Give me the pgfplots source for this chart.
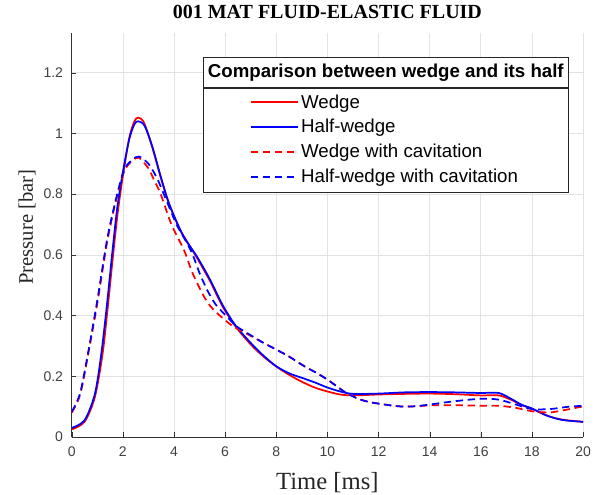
\documentclass[border=0pt]{standalone}
\usepackage{pgfplots}
\pgfplotsset{compat=1.18}
\usepackage{fontspec}
\setmainfont{Liberation Serif}
\newfontfamily\arial{Liberation Sans}

% Wedge
\pgfplotstableread{
t p
0 0.025
0.5 0.05
0.9 0.13
1.2 0.27
1.4 0.42
1.6 0.585
1.8 0.74
2.0 0.86
2.25 0.985
2.45 1.04
2.6 1.052
2.8 1.04
3.0 0.995
3.2 0.94
3.5 0.85
3.8 0.77
4.2 0.69
4.5 0.645
4.9 0.59
5.4 0.515
5.9 0.43
6.4 0.365
7.0 0.305
7.5 0.265
8.0 0.232
8.5 0.205
9.0 0.182
9.5 0.163
10.0 0.15
10.5 0.14
11.0 0.137
12.0 0.14
13.0 0.142
14.0 0.143
15.0 0.141
16.0 0.137
16.7 0.137
17.2 0.122
17.6 0.105
18.0 0.093
18.6 0.07
19.2 0.057
20.0 0.05
}\wedge

% Half-wedge
\pgfplotstableread{
t p
0 0.03
0.5 0.055
0.9 0.14
1.15 0.27
1.37 0.43
1.57 0.594
1.77 0.748
1.97 0.858
2.24 0.978
2.45 1.03
2.6 1.04
2.85 1.025
3.15 0.957
3.48 0.858
3.8 0.77
4.2 0.69
4.45 0.65
4.9 0.594
5.4 0.52
5.9 0.435
6.4 0.368
7.0 0.31
7.5 0.268
8.0 0.233
8.5 0.21
9.0 0.195
9.5 0.18
10.0 0.163
10.5 0.15
11.0 0.142
12.0 0.143
13.0 0.147
14.0 0.148
15.0 0.147
16.0 0.145
16.7 0.145
17.2 0.125
17.6 0.106
18.0 0.094
18.6 0.07
19.2 0.056
20.0 0.05
}\half

% Wedge with cavitation
\pgfplotstableread{
t p
0 0.08
0.33 0.14
0.66 0.28
1.0 0.44
1.38 0.64
1.72 0.775
2.05 0.875
2.37 0.91
2.63 0.92
3.0 0.885
3.2 0.85
3.48 0.80
3.9 0.70
4.39 0.616
4.7 0.545
5.04 0.484
5.3 0.445
5.56 0.418
6.0 0.385
6.34 0.363
7.0 0.333
7.5 0.31
8.0 0.288
8.5 0.265
9.1 0.233
9.6 0.21
10.0 0.189
10.4 0.165
10.7 0.147
11.2 0.126
11.6 0.116
12.0 0.11
12.8 0.101
13.4 0.101
14.0 0.104
15.0 0.105
16.0 0.103
16.7 0.103
17.37 0.096
18.0 0.085
18.7 0.081
19.36 0.09
20.0 0.101
}\wedgecav

% Half-wedge with cavitation
\pgfplotstableread{
t p
0 0.083
0.33 0.145
0.66 0.287
1.0 0.45
1.38 0.649
1.72 0.78
2.05 0.88
2.37 0.913
2.63 0.924
3.0 0.9
3.35 0.85
3.7 0.78
4.1 0.70
4.4 0.655
4.71 0.605
5.0 0.54
5.3 0.484
5.6 0.44
5.88 0.413
6.2 0.385
6.47 0.363
6.97 0.337
7.5 0.31
8.0 0.288
8.5 0.265
9.1 0.233
9.6 0.21
10.0 0.189
10.4 0.165
10.7 0.147
11.2 0.126
11.6 0.116
12.0 0.11
12.8 0.101
13.4 0.101
14.0 0.107
15.0 0.118
16.0 0.126
16.7 0.123
17.37 0.107
18.0 0.092
18.7 0.092
19.36 0.099
20.0 0.103
}\halfcav

\begin{document}
\begin{tikzpicture}
\path[use as bounding box] (-53.8pt,-43.5pt) rectangle (392.45pt,327.75pt);
\begin{axis}[
  scale only axis, width=383.5pt, height=302.8pt,
  xmin=0, xmax=20, ymin=0, ymax=1.33,
  xtick={0,2,...,20}, ytick={0,0.2,...,1.2},
  axis lines*=left, axis line style={-, black!80, line width=0.5pt},
  tick align=inside, major tick length=3.5pt, tick style={black!80},
  grid=major, grid style={gray!22, line width=0.5pt},
  /pgf/number format/assume math mode=true,
  ticklabel style={font=\arial\fontsize{10.5}{12}\selectfont, text=black!75},
  xticklabel style={yshift=-4pt}, yticklabel style={xshift=-3pt},
  title={\textbf{001 MAT FLUID-ELASTIC FLUID}},
  title style={at={(axis description cs:0.5,1)}, anchor=base, yshift=4.7pt,
    font=\fontsize{15}{18}\selectfont},
  xlabel={Time [ms]},
  xlabel style={at={(axis description cs:0.5,0)}, anchor=base, yshift=-39pt,
    font=\fontsize{18.5}{22}\selectfont, text=black!85},
  ylabel={Pressure [bar]},
  ylabel style={at={(axis description cs:0,0.52)}, anchor=center, yshift=33.5pt,
    font=\fontsize{15.5}{18}\selectfont, text=black!85},
  legend image code/.code={\draw[#1] (0pt,0pt) -- (35pt,0pt);},
  legend style={at={(axis description cs:0.6134,0.7366)}, anchor=center,
    draw=none, fill=none,
    font=\arial\fontsize{14}{16}\selectfont, row sep=3pt,
    cells={anchor=west}},
  legend cell align=left,
]
\addplot[red, line width=1.3pt, smooth] table[x=t, y=p] {\wedge};
\addlegendentry{Wedge}
\addplot[blue, line width=1.3pt, smooth] table[x=t, y=p] {\half};
\addlegendentry{Half-wedge}
\addplot[red, line width=1.3pt, smooth, dash pattern=on 5.5pt off 3.5pt] table[x=t, y=p] {\wedgecav};
\addlegendentry{Wedge with cavitation}
\addplot[blue, line width=1.3pt, smooth, dash pattern=on 5.5pt off 3.5pt] table[x=t, y=p] {\halfcav};
\addlegendentry{Half-wedge with cavitation}
% legend frame and its title box
\node[draw=black!85, line width=0.6pt, fill=white, anchor=north west,
  minimum width=274pt, minimum height=78pt, inner sep=0pt]
  at (axis description cs:0.2562,0.8654) {};
\node[draw=black!85, line width=0.6pt, fill=white, anchor=south west,
  minimum width=274pt, minimum height=22pt, inner sep=2pt,
  font=\arial\bfseries\fontsize{14}{16}\selectfont]
  at (axis description cs:0.2562,0.8654) {Comparison between wedge and its half};
\end{axis}
\end{tikzpicture}
\end{document}
